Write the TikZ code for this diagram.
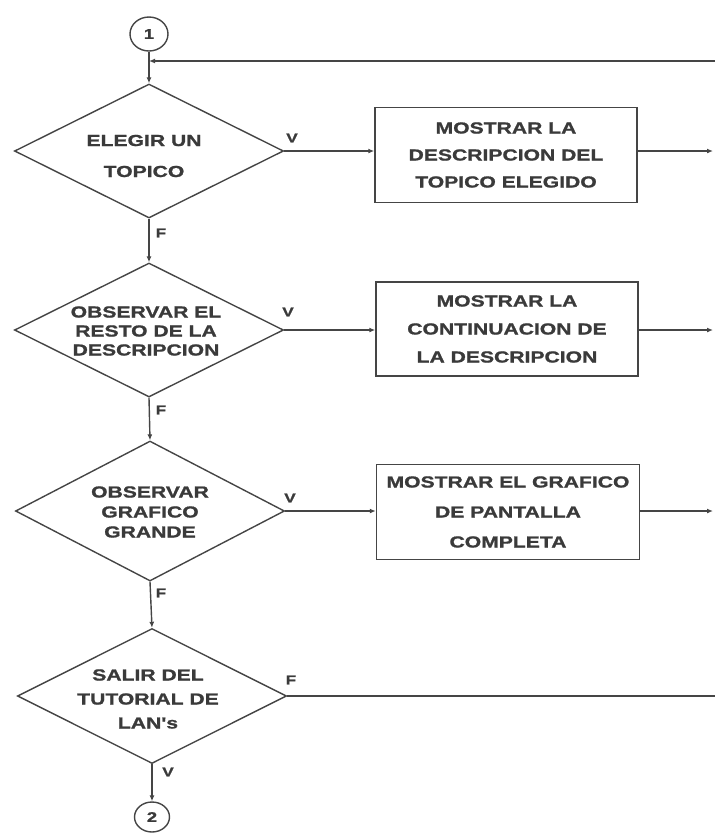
\documentclass[tikz,border=0pt]{standalone}
\usepackage{fontspec}
\newfontfamily\lblfont[FakeStretch=1.32,FakeBold=1.2]{Liberation Sans}
\usetikzlibrary{shapes.geometric,arrows.meta}
\definecolor{ink}{HTML}{454545}
\definecolor{txt}{HTML}{3A3A3A}
\begin{document}
\begin{tikzpicture}[x=1pt,y=-1pt,
  conn/.style={draw=ink, line width=1.4pt},
  arr/.style={conn, -{Latex[length=6pt,width=5pt]}},
  ls/.style={font=\lblfont\bfseries\fontsize{16}{#1}\selectfont, text=txt, align=center},
  dia/.style={shape=diamond, draw=ink, line width=1.4pt, inner sep=0pt, minimum width=269pt, minimum height=134pt},
  box/.style={draw=ink, line width=1.5pt, inner sep=0pt, minimum width=262pt, minimum height=95pt},
  conector/.style={ellipse, draw=ink, line width=1.4pt, inner sep=0pt, text=txt, font=\lblfont\bfseries\fontsize{14}{14}\selectfont},
  lab/.style={font=\lblfont\bfseries\fontsize{13}{13}\selectfont, text=txt}
]
\useasboundingbox (0,0) rectangle (715,839);

% connectors (circles)
\node[conector, minimum width=38pt, minimum height=34pt] (c1) at (149,34) {1};
\node[conector, minimum width=35pt, minimum height=30pt] (c2) at (152,817) {2};

% decisions
\node[dia] (d1) at (149,151) {};
\node[ls=31] (d1t) at (144,156) {ELEGIR UN\\TOPICO};
\node[dia] (d2) at (149,330) {};
\node[ls=19] (d2t) at (146,331) {OBSERVAR EL\\RESTO DE LA\\DESCRIPCION};
\node[dia, minimum height=140pt] (d3) at (150,511) {};
\node[ls=20] (d3t) at (150,512) {OBSERVAR\\GRAFICO\\GRANDE};
\node[dia, minimum height=135pt] (d4) at (152,696) {};
\node[ls=24] (d4t) at (148,699) {SALIR DEL\\TUTORIAL DE\\LAN's};

% processes
\node[box, ls=27] (b1) at (506,155) {MOSTRAR LA\\DESCRIPCION DEL\\TOPICO ELEGIDO};
\node[box, ls=28, minimum height=94pt] (b2) at (507,329) {MOSTRAR LA\\CONTINUACION DE\\LA DESCRIPCION};
\node[box, ls=30, minimum width=263pt] (b3) at (508,512) {MOSTRAR EL GRAFICO\\DE PANTALLA\\COMPLETA};

% free ends at the right edge
\coordinate (loop) at (715,61);
\coordinate (edge) at (713,0);
\coordinate (exitF) at (715,696);

% loop back to the top
\draw[arr] (loop) -- (c1 |- loop);
\draw[arr] (c1) -- (d1.north);

% V branches
\draw[arr] (d1.east) -- (d1.east -| b1.west);
\draw[arr] (d2.east) -- (d2.east -| b2.west);
\draw[arr] (d3.east) -- (d3.east -| b3.west);
\draw[arr] (d1.east -| b1.east) -- (d1.east -| edge);
\draw[arr] (d2.east -| b2.east) -- (d2.east -| edge);
\draw[arr] (d3.east -| b3.east) -- (d3.east -| edge);

% F branches
\draw[arr] (d1.south) -- (d2.north);
\draw[arr] (d2.south) -- (d3.north);
\draw[arr] (d3.south) -- (d4.north);
\draw[conn] (d4.east) -- (exitF);
\draw[arr] (d4.south) -- (c2);

% branch labels
\node[lab] (v1) at (292,138) {V};
\node[lab] (v2) at (288,312) {V};
\node[lab] (v3) at (290,498) {V};
\node[lab] (f1) at (161,233) {F};
\node[lab] (f2) at (161,410) {F};
\node[lab] (f3) at (161,593) {F};
\node[lab] (f4) at (291,680) {F};
\node[lab] (v4) at (168,772) {V};
\end{tikzpicture}
\end{document}
